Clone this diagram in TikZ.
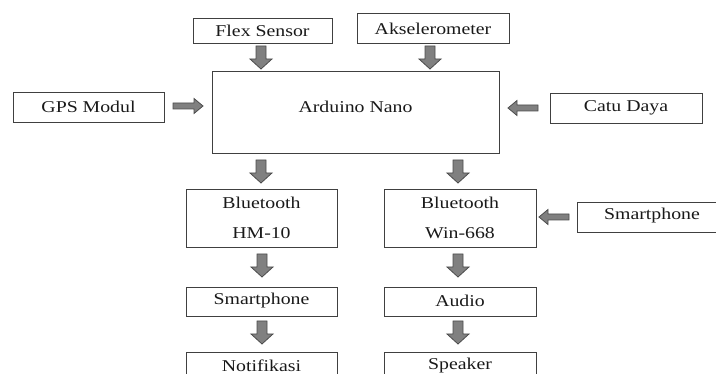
\documentclass[tikz,border=0pt]{standalone}
\usepackage{fontspec}
\setmainfont{Liberation Serif}[FakeStretch=1.2]
\begin{document}
\begin{tikzpicture}[x=1pt,y=-1pt,
  boxline/.style={draw=black!75, line width=0.9pt},
  lbl/.style={font=\fontsize{16.5}{18}\selectfont, text=black!90, inner sep=0pt},
  arrstyle/.style={draw=black!70, fill=black!50, line width=0.8pt, line join=miter},
  pics/darrow/.style={code={\draw[arrstyle] (-5,0) -- (5,0) -- (5,13) -- (11,13) -- (0,23) -- (-11,13) -- (-5,13) -- cycle;}},
  pics/rarrow/.style={code={\draw[arrstyle] (0,-3) -- (21,-3) -- (21,-7.5) -- (30,0) -- (21,7.5) -- (21,3) -- (0,3) -- cycle;}},
  pics/larrow/.style={code={\draw[arrstyle] (0,-3) -- (-21,-3) -- (-21,-7.5) -- (-30,0) -- (-21,7.5) -- (-21,3) -- (0,3) -- cycle;}},
]
\useasboundingbox (0,0) rectangle (716,374);
% boxes
\draw[boxline] (193,18) rectangle (332,43) node[lbl] (flex) at (262.5,31) {Flex Sensor};
\draw[boxline] (357,13) rectangle (509,43) node[lbl] (aksel) at (433,29) {Akselerometer};
\draw[boxline] (212,71) rectangle (499,153) node[lbl] (ard) at (355.5,107) {Arduino Nano};
\draw[boxline] (13,92) rectangle (164,122) node[lbl] (gps) at (88.5,107) {GPS Modul};
\draw[boxline] (550,93) rectangle (702,123) node[lbl] (catu) at (626,108) {Catu Daya};
\draw[boxline] (186,189) rectangle (337,247);
\node[lbl] (bt1a) at (261.5,203) {Bluetooth};
\node[lbl] (bt1b) at (261.5,233) {HM-10};
\draw[boxline] (384,189) rectangle (536,247);
\node[lbl] (bt2a) at (460,203) {Bluetooth};
\node[lbl] (bt2b) at (460,233) {Win-668};
\draw[boxline] (577,202) rectangle (728,232) node[lbl] (sm2) at (652,216) {Smartphone};
\draw[boxline] (186,287) rectangle (337,316) node[lbl] (sm1) at (261.5,301) {Smartphone};
\draw[boxline] (384,287) rectangle (536,316) node[lbl] (audio) at (460,301) {Audio};
\draw[boxline] (186,352) rectangle (337,390) node[lbl] (notif) at (261.5,366) {Notifikasi};
\draw[boxline] (384,352) rectangle (536,390) node[lbl] (spk) at (460,366) {Speaker};
% block arrows
\pic at (261,46) {darrow};
\pic at (430,46) {darrow};
\pic at (173,106) {rarrow};
\pic at (538,108) {larrow};
\pic at (261,160) {darrow};
\pic at (458,160) {darrow};
\pic at (262,254) {darrow};
\pic at (458,254) {darrow};
\pic at (262,321) {darrow};
\pic at (458,321) {darrow};
\pic at (569,217) {larrow};
\end{tikzpicture}
\end{document}
